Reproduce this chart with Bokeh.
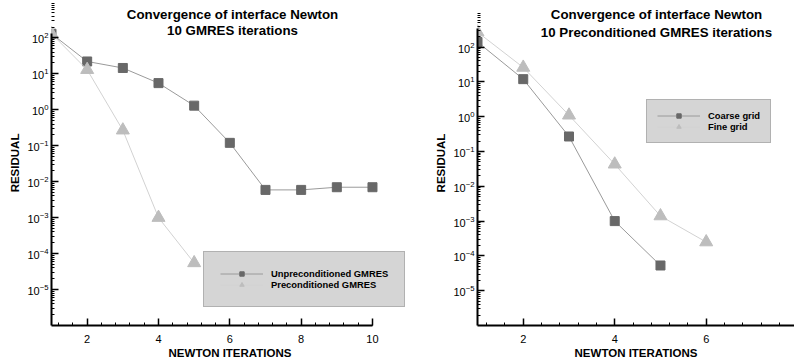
from bokeh.plotting import figure
from bokeh.layouts import row
from bokeh.models import (FixedTicker, SingleIntervalTicker, Label, Legend, LegendItem,
                          Range1d)
from bokeh.embed import file_html
from bokeh.resources import INLINE

# ---------------- data ----------------
# left chart
left_iter = [1, 2, 3, 4, 5, 6, 7, 8, 9, 10]
left_unprec = [130, 22, 14.5, 5.5, 1.3, 0.12, 5.9e-3, 5.9e-3, 7.0e-3, 7.0e-3]
left_prec_iter = [1, 2, 3, 4, 5]
left_prec = [130, 13, 0.27, 1.0e-3, 5.5e-5]

# right chart
right_coarse_iter = [1, 2, 3, 4, 5]
right_coarse = [140, 12, 0.27, 1.0e-3, 5.3e-5]
right_fine_iter = [1, 2, 3, 4, 5, 6]
right_fine = [270, 26, 1.1, 0.043, 1.4e-3, 2.5e-4]

y_major_ticks = [1e-5, 1e-4, 1e-3, 1e-2, 1e-1, 1e0, 1e1, 1e2]
y_minor_ticks = [m * t for t in [1e-6] + y_major_ticks for m in range(2, 10)]

titles_left = ["Convergence of interface Newton", "10 GMRES iterations"]
titles_right = ["Convergence of interface Newton", "10 Preconditioned GMRES iterations"]
legend_left = ["Unpreconditioned GMRES", "Preconditioned GMRES"]
legend_right = ["Coarse grid", "Fine grid"]

FONT = "Liberation Sans"
DARK = "#686868"
DARK_LINE = "#9a9a9a"
LIGHT = "#bdbdbd"
LIGHT_LINE = "#d2d2d2"


def style(p, xbounds, ybounds):
    p.outline_line_color = None
    p.background_fill_color = "white"
    p.border_fill_color = "white"
    for ax in (p.xaxis[0], p.yaxis[0]):
        ax.axis_line_width = 2
        ax.axis_line_color = "black"
        ax.major_tick_line_color = "black"
        ax.minor_tick_line_color = "black"
        ax.major_tick_line_width = 1.5
        ax.minor_tick_line_width = 1
        ax.major_tick_in = 7
        ax.major_tick_out = 0
        ax.minor_tick_in = 3
        ax.minor_tick_out = 0
        ax.major_label_text_font = FONT
        ax.major_label_text_font_size = "11px"
        ax.major_label_text_color = "black"
        ax.axis_label_text_font = FONT
        ax.axis_label_text_font_style = "bold"
        ax.axis_label_text_font_size = "11.5px"
        ax.axis_label_text_color = "black"
    p.xaxis[0].major_label_standoff = 9
    p.xaxis[0].axis_label_standoff = 1
    p.yaxis[0].major_label_standoff = 3
    p.yaxis[0].axis_label_standoff = 3
    p.yaxis[0].ticker = FixedTicker(ticks=y_major_ticks, minor_ticks=y_minor_ticks)
    p.xaxis[0].ticker = SingleIntervalTicker(interval=2, num_minor_ticks=5)
    if xbounds is not None:
        p.xaxis[0].bounds = xbounds
    p.yaxis[0].bounds = ybounds
    p.xgrid.visible = False
    p.ygrid.visible = False
    p.xaxis.axis_label = "NEWTON ITERATIONS"
    p.yaxis.axis_label = "RESIDUAL"


def add_titles(p, lines, x, ys):
    for t, y in zip(lines, ys):
        p.add_layout(Label(x=x, y=y, x_units="screen", y_units="screen", text=t,
                           text_align="center", text_baseline="middle",
                           text_font=FONT, text_font_style="bold",
                           text_font_size="13.3px", text_color="black"))


def add_series(p, xs, ys, line_color, marker, fill):
    r = p.line(xs, ys, line_color=line_color, line_width=1)
    if marker == "square":
        m = p.scatter(xs, ys, marker="square", size=9, fill_color=fill, line_color=fill)
    else:
        m = p.scatter(xs, ys, marker="triangle", size=13, fill_color=fill, line_color=fill)
    return [r, m]


def add_legend(p, labels, rends, loc, pad):
    leg = Legend(items=[LegendItem(label=l, renderers=r) for l, r in zip(labels, rends)],
                 location=loc, orientation="vertical",
                 background_fill_color="#d5d5d5", background_fill_alpha=1,
                 border_line_color="#8e8e8e", border_line_width=1.5,
                 glyph_width=43, glyph_height=11, label_height=11,
                 label_standoff=8, spacing=0, padding=pad, margin=0,
                 label_text_font=FONT, label_text_font_style="bold",
                 label_text_font_size="9.4px", label_text_color="black",
                 label_text_baseline="middle")
    p.add_layout(leg, "center")


# ---------------- left plot ----------------
p1 = figure(frame_width=357, frame_height=325, min_border_left=51, min_border_right=0,
            min_border_top=0, min_border_bottom=33, y_axis_type="log",
            x_range=Range1d(1, 11.01), y_range=Range1d(1e-6, 10 ** 3.038),
            output_backend="svg", toolbar_location=None)
style(p1, (1, 10), (1e-6, 132))
r_unprec = add_series(p1, left_iter, left_unprec, DARK_LINE, "square", DARK)
r_prec = add_series(p1, left_prec_iter, left_prec, LIGHT_LINE, "triangle", LIGHT)
add_legend(p1, legend_left, [r_unprec, r_prec], (152, 18), 16)
add_titles(p1, titles_left, 181, [311, 295.3])

# ---------------- right plot ----------------
p2 = figure(frame_width=317, frame_height=325, min_border_left=69, min_border_right=0,
            min_border_top=0, min_border_bottom=33, y_axis_type="log",
            x_range=Range1d(1, 7.93), y_range=Range1d(1e-6, 10 ** 3.339),
            output_backend="svg", toolbar_location=None)
style(p2, None, (1e-6, 340))
r_coarse = add_series(p2, right_coarse_iter, right_coarse, DARK_LINE, "square", DARK)
r_fine = add_series(p2, right_fine_iter, right_fine, LIGHT_LINE, "triangle", LIGHT)
add_legend(p2, legend_right, [r_coarse, r_fine], (169, 182), 10)
add_titles(p2, titles_right, 179, [311, 293])

layout = row(p1, p2, spacing=0)
open("out.html", "w").write(file_html(layout, INLINE))
